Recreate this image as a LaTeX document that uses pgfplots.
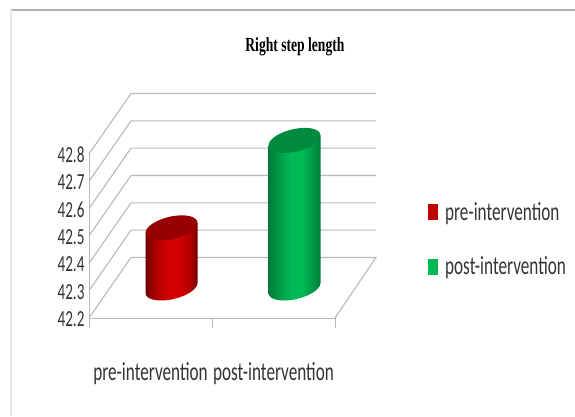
\documentclass[border=0pt]{standalone}
\usepackage{fontspec}
\setmainfont[FakeStretch=0.66]{Carlito}
\newfontfamily\titlefont[FakeStretch=0.68]{Liberation Serif}
\usepackage{pgfplots}
\usepackage{pgfplotstable}
\pgfplotsset{compat=1.18}

\definecolor{gridgray}{HTML}{B8B8B8}
\definecolor{labelgray}{HTML}{333333}
\definecolor{reddark}{HTML}{6E0000}
\definecolor{redmid}{HTML}{D20000}
\definecolor{redtop}{HTML}{960000}
\definecolor{greendark}{HTML}{007A3A}
\definecolor{greenmid}{HTML}{00B955}
\definecolor{greentop}{HTML}{008A40}

\pgfdeclarehorizontalshading{redcyl}{100bp}{color(0bp)=(reddark); color(25bp)=(reddark); color(33bp)=(red!65!black); color(46bp)=(redmid); color(58bp)=(redmid); color(68bp)=(red!70!black); color(75bp)=(reddark); color(100bp)=(reddark)}
\pgfdeclarehorizontalshading{greencyl}{100bp}{color(0bp)=(greendark); color(25bp)=(greendark); color(33bp)=(greenmid!80!black); color(46bp)=(greenmid); color(58bp)=(greenmid); color(68bp)=(greenmid!80!black); color(75bp)=(greendark); color(100bp)=(greendark)}

% top of a cylinder: slanted ellipse
\pgfdeclareplotmark{capflat}{%
  \pgftransformcm{26}{5}{0}{11.5}{\pgfpointorigin}%
  \pgfpathcircle{\pgfpointorigin}{1pt}\pgfusepathqfill}

% cylinder outline in px around the centres of its top and bottom; istop=1 moves with the value
\pgfplotstableread{
dx dy istop
-26 -5 1
26 5 1
26 5 0
25.1 1.85 0
22.5 -1.42 0
18.4 -4.6 0
13 -7.46 0
6.73 -9.8 0
0 -11.5 0
-6.73 -12.4 0
-13 -12.46 0
-18.4 -11.67 0
-22.5 -10.08 0
-25.1 -7.81 0
-26 -5 0
}\outline

\tikzset{depth/.style={shift={(21pt,30pt)}}}

\begin{document}
\begin{tikzpicture}[x=1pt,y=1pt]
\path[use as bounding box] (0,0) rectangle (575,416);
\draw[color=black!30,line width=1.6pt] (11,406) -- (575,406);
\draw[color=black!9,line width=2pt] (11,406) -- (11,0);
\begin{axis}[
    at={(89pt,98pt)},anchor=south west,
    scale only axis,width=246pt,height=164pt,
    xmin=-0.5,xmax=1.5,ymin=42.2,ymax=42.8,
    clip=false,
    axis x line=bottom,axis y line=left,
    axis line style={-,draw=gridgray,line width=1pt},
    xtick={0,1},
    xticklabels={pre-intervention,post-intervention},
    minor xtick={-0.5,0.5,1.5},
    ytick={42.2,42.3,42.4,42.5,42.6,42.7,42.8},
    yticklabel style={/pgf/number format/fixed,/pgf/number format/precision=1,/pgf/number format/fixed zerofill},
    /pgf/number format/assume math mode=true,
    major tick length=0pt,minor tick length=10pt,
    tick align=outside,
    tick style={draw=gridgray,line width=0.8pt},
    xticklabel style={font=\fontsize{26}{28}\selectfont,color=labelgray,yshift=-41pt},
    yticklabel style={font=\fontsize{23}{25}\selectfont,color=labelgray,xshift=-1pt,yshift=-1pt},
    title={\titlefont\bfseries Right step length},
    title style={font=\fontsize{20}{22}\selectfont,at={(0.837,1.616)},anchor=center},
    legend style={draw=none,fill=none,at={(1.378,0.48)},anchor=west,
      font=\fontsize{26}{28}\selectfont,text=labelgray,row sep=31pt,inner sep=0pt},
    legend cell align=left,
  ]
% side wall and back wall grid
\addplot[gridgray,line width=1.1pt,forget plot] coordinates {(-0.5,42.2) (-0.1585,42.4214) (1.8333,42.4214) (1.5,42.2)};
\addplot[gridgray,line width=1.1pt,forget plot] coordinates {(-0.5,42.3) (-0.1585,42.5214) (1.8333,42.5214)};
\addplot[gridgray,line width=1.1pt,forget plot] coordinates {(-0.5,42.4) (-0.1585,42.6214) (1.8333,42.6214)};
\addplot[gridgray,line width=1.1pt,forget plot] coordinates {(-0.5,42.5) (-0.1585,42.7214) (1.8333,42.7214)};
\addplot[gridgray,line width=1.1pt,forget plot] coordinates {(-0.5,42.6) (-0.1585,42.8214) (1.8333,42.8214)};
\addplot[gridgray,line width=1.1pt,forget plot] coordinates {(-0.5,42.7) (-0.1585,42.9214) (1.8333,42.9214)};
\addplot[gridgray,line width=1.1pt,forget plot] coordinates {(-0.5,42.8) (-0.1585,43.0214) (1.8333,43.0214)};
% pre-intervention, 42.42
\addplot[depth,draw=none,shade,shading=redcyl,mark=none,forget plot] table[
    x expr={0+\thisrow{dx}/123},
    y expr={\thisrow{istop}*42.42+(1-\thisrow{istop})*42.2+\thisrow{dy}/273.33}] {\outline} -- cycle;
\addplot[depth,only marks,mark=capflat,mark options={fill=redtop,draw=none},forget plot] coordinates {(0,42.42)};
% post-intervention, 42.74
\addplot[depth,draw=none,shade,shading=greencyl,mark=none,forget plot] table[
    x expr={1+\thisrow{dx}/123},
    y expr={\thisrow{istop}*42.74+(1-\thisrow{istop})*42.2+\thisrow{dy}/273.33}] {\outline} -- cycle;
\addplot[depth,only marks,mark=capflat,mark options={fill=greentop,draw=none},forget plot] coordinates {(1,42.74)};
\addlegendimage{legend image code/.code={\fill[color=red!75!black,draw=none] (0pt,-8pt) rectangle (10pt,8pt);\path[draw=none,fill=none] (0pt,-8pt) rectangle (15pt,8pt);}}
\addlegendimage{legend image code/.code={\fill[color=greenmid,draw=none] (0pt,-8pt) rectangle (10pt,8pt);\path[draw=none,fill=none] (0pt,-8pt) rectangle (15pt,8pt);}}
\legend{pre-intervention,post-intervention}
\end{axis}
\end{tikzpicture}
\end{document}
